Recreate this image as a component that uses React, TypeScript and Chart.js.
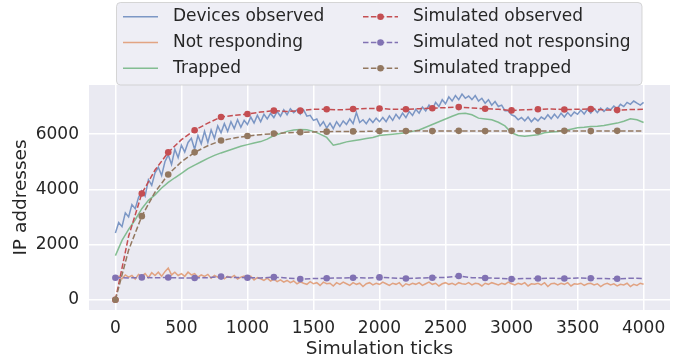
import { useEffect, useRef } from "react";
import { Chart, registerables } from "chart.js";

Chart.register(...registerables);

const FONT_FAMILY = '"DejaVu Sans", sans-serif';
const TEXT_COLOR = "#262626";

const xTickValues = [0, 500, 1000, 1500, 2000, 2500, 3000, 3500, 4000];
const yTickValues = [0, 2000, 4000, 6000];

// measured series, one value every 25 ticks
const observedStep = 25;
const devicesObserved = [
  2420, 2800, 2650, 3150, 3000, 3450, 3300, 3700, 3950, 3750,
  4350, 4150, 4600, 4800, 4500, 5000, 5250, 4900, 5450, 5150,
  5600, 5350, 5700, 5850, 5450, 5950, 5650, 6100, 5700, 6150,
  5850, 6300, 6050, 6380, 6100, 6450, 6200, 6520, 6250, 6500,
  6350, 6620, 6400, 6680, 6450, 6720, 6550, 6750, 6600, 6820,
  6650, 6880, 6700, 6920, 6780, 6880, 6720, 6880, 6650, 6680,
  6500, 6550, 6300, 6450, 6220, 6400, 6200, 6450, 6280, 6480,
  6350, 6550, 6380, 6780, 6420, 6520, 6380, 6560, 6420, 6580,
  6450, 6600, 6450, 6660, 6500, 6720, 6560, 6760, 6600, 6820,
  6680, 6900, 6760, 6980, 6840, 7050, 6900, 7150, 7000, 7250,
  7100, 7350, 7200, 7400, 7250, 7450, 7300, 7380, 7250, 7400,
  7200, 7300, 7120, 7250, 7050, 7180, 7000, 7050, 6850, 6850,
  6700, 6650, 6520, 6600, 6480, 6620, 6450, 6580, 6480, 6620,
  6540, 6700, 6560, 6720, 6580, 6760, 6620, 6780, 6650, 6800,
  6720, 6870, 6730, 6900, 6760, 6920, 6780, 6940, 6820, 6950,
  6880, 7020, 6920, 7080, 7000, 7150, 7080, 7200, 7120, 7050,
  7150,
];
const notResponding = [
  800, 850, 760, 900, 820, 880, 750, 920, 860, 950,
  800, 980, 880, 1000, 850, 1020, 1150, 900, 1000, 880,
  950, 850, 1000, 900, 950, 820, 900, 850, 920, 780,
  880, 820, 900, 760, 850, 800, 880, 750, 820, 860,
  780, 850, 720, 800, 760, 700, 780, 680, 750, 660,
  720, 640, 700, 620, 680, 580, 650, 600, 560, 660,
  580, 620, 520, 640, 580, 600, 500, 620, 560, 640,
  580, 520, 620, 560, 600, 480, 580, 620, 540, 600,
  560, 640, 580, 520, 600, 560, 620, 480, 580, 540,
  600, 560, 620, 520, 580, 640, 560, 600, 500, 580,
  620, 560, 600, 540, 620, 580, 560, 620, 540, 600,
  580, 500, 600, 560, 620, 580, 540, 600, 560, 640,
  580, 540, 600, 560, 620, 500, 580, 560, 600, 540,
  620, 480, 580, 600, 540, 600, 560, 620, 500, 580,
  560, 600, 520, 580, 600, 540, 580, 480, 560, 600,
  540, 580, 500, 560, 540, 600, 480, 560, 520, 600,
  560,
];

// trapped series, one value every 50 ticks
const trappedStep = 50;
const trapped = [
  1600, 2150, 2550, 2900, 3300, 3600, 3800, 4050, 4250, 4420,
  4580, 4750, 4880, 5000, 5120, 5230, 5320, 5400, 5480, 5560,
  5620, 5680, 5730, 5820, 5950, 6020, 6100, 6150, 6170, 6160,
  6100, 6000, 5880, 5600, 5650, 5720, 5760, 5800, 5840, 5880,
  5950, 5980, 6000, 6020, 6050, 6100, 6150, 6250, 6350, 6450,
  6550, 6650, 6740, 6760, 6700, 6580, 6550, 6520, 6430, 6300,
  6050, 5950, 5920, 5950, 5980, 6050, 6080, 6100, 6130, 6180,
  6230, 6250, 6280, 6290, 6310, 6360, 6400, 6470, 6560, 6520,
  6420,
];

// simulated series, one value every 100 ticks, marker every 200 ticks
const simulatedStep = 100;
const simulatedMarkerEvery = 2;
const simulatedObserved = [
  0, 2300, 3850, 4700, 5340, 5800, 6140, 6400, 6620, 6680,
  6730, 6800, 6850, 6820, 6850, 6900, 6900, 6880, 6910, 6930,
  6930, 6900, 6900, 6920, 6940, 6960, 6980, 6950, 6920, 6900,
  6860, 6880, 6900, 6910, 6890, 6900, 6910, 6880, 6870, 6890,
  6900,
];
const simulatedNotResponding = [
  800, 790, 810, 800, 805, 790, 790, 800, 840, 810,
  800, 790, 820, 790, 750, 770, 780, 790, 800, 790,
  810, 790, 770, 790, 800, 810, 860, 800, 790, 780,
  750, 770, 770, 780, 770, 790, 780, 770, 760, 780,
  770,
];
const simulatedTrapped = [
  0, 1800, 3030, 3900, 4540, 5000, 5340, 5580, 5770, 5860,
  5930, 5980, 6020, 6050, 6070, 6080, 6090, 6100, 6100, 6100,
  6110, 6110, 6110, 6120, 6110, 6110, 6120, 6110, 6110, 6110,
  6120, 6110, 6110, 6110, 6120, 6110, 6110, 6110, 6120, 6110,
  6110,
];

const toPoints = (values: number[], step: number) =>
  values.map((y, i) => ({ x: i * step, y }));

const realLine = (label: string, values: number[], step: number, color: string, order: number) => ({
  label,
  data: toPoints(values, step),
  borderColor: color,
  backgroundColor: color,
  borderWidth: 1.5,
  pointRadius: 0,
  pointHoverRadius: 0,
  tension: 0,
  fill: false,
  order,
});

const simLine = (label: string, values: number[], color: string, order: number) => ({
  label,
  data: toPoints(values, simulatedStep),
  borderColor: color,
  backgroundColor: color,
  borderWidth: 1.5,
  borderDash: [5.5, 2.4],
  pointRadius: (c: any) =>
    c.dataIndex % simulatedMarkerEvery === 0 && c.dataIndex < values.length - 1 ? 3.3 : 0,
  pointBackgroundColor: color,
  pointBorderWidth: 0,
  pointHoverRadius: 0,
  tension: 0,
  fill: false,
  order,
  isSim: true,
});

const backgroundPlugin = {
  id: "bgPlugin",
  beforeDraw(chart: any) {
    const { ctx, chartArea, width, height } = chart;
    ctx.save();
    ctx.fillStyle = "#ffffff";
    ctx.fillRect(0, 0, width, height);
    ctx.fillStyle = "#EAEAF2";
    ctx.fillRect(chartArea.left, chartArea.top, chartArea.right - chartArea.left, chartArea.bottom - chartArea.top);
    ctx.restore();
  },
};

const legendPlugin = {
  id: "boxLegend",
  afterDraw(chart: any) {
    const { ctx } = chart;
    const ds = chart.data.datasets;
    ctx.save();
    ctx.beginPath();
    ctx.roundRect(116.5, 2.5, 525.5, 82.5, 4);
    ctx.fillStyle = "rgba(234,234,242,0.8)";
    ctx.fill();
    ctx.lineWidth = 1;
    ctx.strokeStyle = "rgba(204,204,204,0.8)";
    ctx.stroke();
    const rows = [16.7, 42.5, 68.3];
    const cols = [
      { x0: 123, x1: 158, tx: 173 },
      { x0: 363, x1: 398, tx: 413 },
    ];
    ds.forEach((d: any, i: number) => {
      const c = cols[Math.floor(i / 3)];
      const y = rows[i % 3];
      ctx.setLineDash(d.borderDash || []);
      ctx.strokeStyle = d.borderColor;
      ctx.lineWidth = 1.5;
      ctx.beginPath();
      ctx.moveTo(c.x0, y);
      ctx.lineTo(c.x1, y);
      ctx.stroke();
      ctx.setLineDash([]);
      if (d.isSim) {
        ctx.beginPath();
        ctx.arc((c.x0 + c.x1) / 2, y, 3.3, 0, Math.PI * 2);
        ctx.fillStyle = d.borderColor;
        ctx.fill();
      }
      ctx.fillStyle = TEXT_COLOR;
      ctx.font = `17px ${FONT_FAMILY}`;
      ctx.textBaseline = "middle";
      ctx.textAlign = "left";
      ctx.fillText(d.label, c.tx, y);
    });
    ctx.restore();
  },
};

export default function App() {
  const canvasRef = useRef<HTMLCanvasElement | null>(null);

  useEffect(() => {
    const canvas = canvasRef.current;
    if (!canvas) return;
    const tickFont = { family: FONT_FAMILY, size: 17 };
    const titleFont = { family: FONT_FAMILY, size: 18.5 };
    const chart = new Chart(canvas, {
      type: "line",
      data: {
        datasets: [
          realLine("Devices observed", devicesObserved, observedStep, "rgba(76,114,176,0.7)", 6),
          realLine("Not responding", notResponding, observedStep, "rgba(221,132,82,0.7)", 5),
          realLine("Trapped", trapped, trappedStep, "rgba(85,168,104,0.7)", 4),
          simLine("Simulated observed", simulatedObserved, "#C44E52", 3),
          simLine("Simulated not responsing", simulatedNotResponding, "#8172B3", 2),
          simLine("Simulated trapped", simulatedTrapped, "#937860", 1),
        ] as any,
      },
      options: {
        animation: false,
        responsive: false,
        devicePixelRatio: 1,
        layout: { padding: { top: 85, right: 13, left: 0, bottom: 0 } },
        plugins: {
          legend: { display: false },
          tooltip: { enabled: false },
        },
        scales: {
          x: {
            type: "linear",
            min: -200,
            max: 4200,
            afterBuildTicks: (s: any) => {
              s.ticks = xTickValues.map((v) => ({ value: v }));
            },
            afterFit: (s: any) => {
              s.height = 50;
            },
            grid: { color: "#ffffff", lineWidth: 1.5, drawTicks: false },
            border: { display: false },
            ticks: {
              font: tickFont,
              color: TEXT_COLOR,
              padding: 8,
              maxRotation: 0,
              callback: (v: any) => String(v),
            },
            title: {
              display: true,
              text: "Simulation ticks",
              font: titleFont,
              color: TEXT_COLOR,
              padding: { top: 0, bottom: 0 },
            },
          },
          y: {
            type: "linear",
            min: -370,
            max: 7780,
            afterBuildTicks: (s: any) => {
              s.ticks = yTickValues.map((v) => ({ value: v }));
            },
            afterFit: (s: any) => {
              s.width = 89;
            },
            grid: { color: "#ffffff", lineWidth: 1.5, drawTicks: false },
            border: { display: false },
            ticks: {
              font: tickFont,
              color: TEXT_COLOR,
              padding: 10,
              callback: (v: any) => String(v),
            },
            title: {
              display: true,
              text: "IP addresses",
              font: titleFont,
              color: TEXT_COLOR,
              padding: { top: 10, bottom: 0 },
            },
          },
        },
      } as any,
      plugins: [backgroundPlugin, legendPlugin],
    });
    return () => chart.destroy();
  }, []);

  return (
    <div style={{ position: "fixed", left: 0, top: 0, width: 683, height: 360, background: "#fff" }}>
      <canvas ref={canvasRef} width={683} height={360} style={{ display: "block", width: 683, height: 360 }} />
    </div>
  );
}
